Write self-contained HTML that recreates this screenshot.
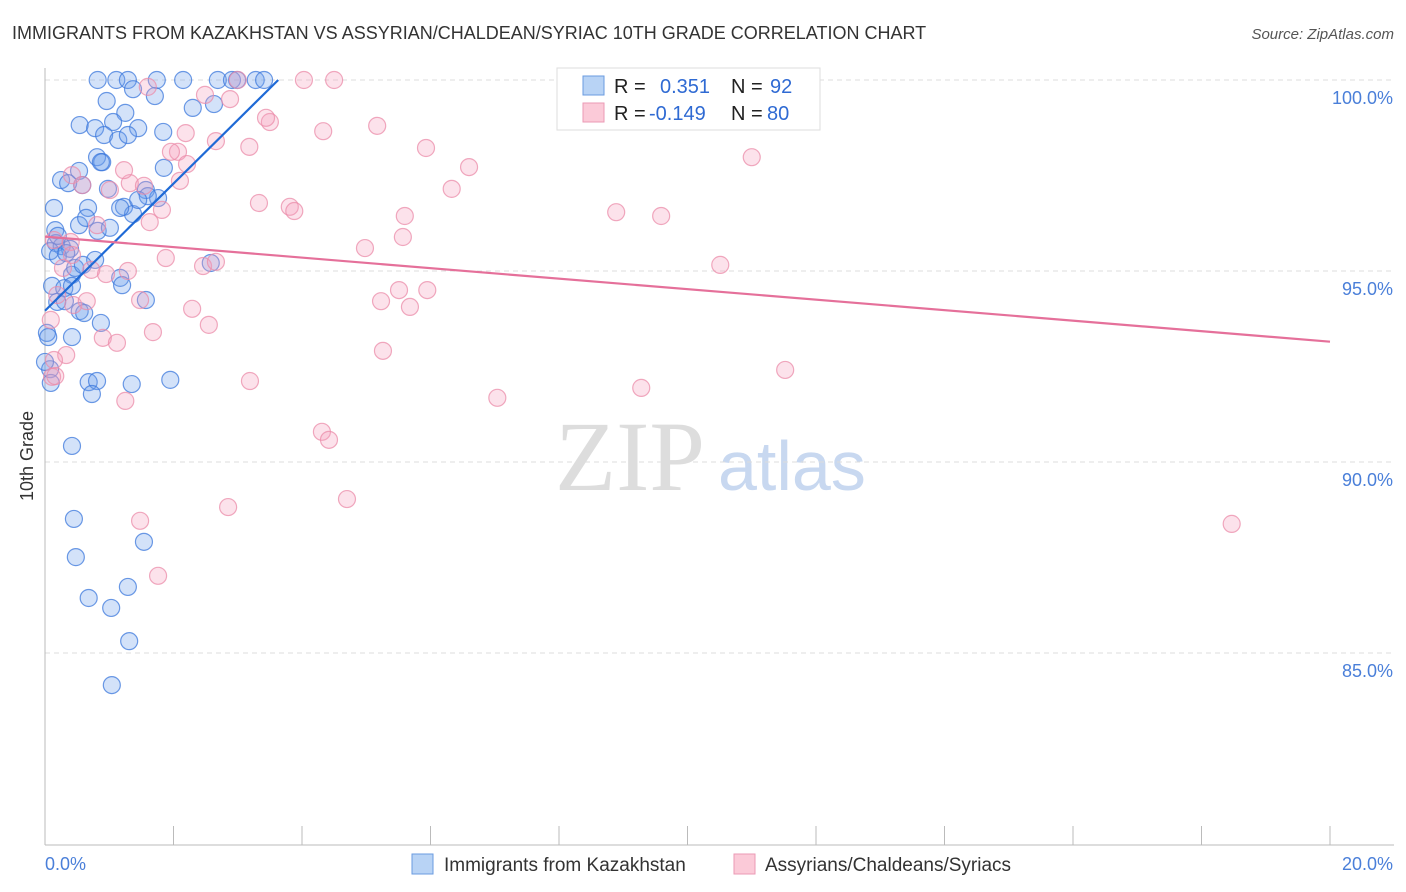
<!DOCTYPE html>
<html><head><meta charset="utf-8">
<style>
body{margin:0;background:#fff;font-family:"Liberation Sans",sans-serif;}
svg{display:block}
</style></head><body>
<svg id="chart" width="1406" height="892">
<text x="12" y="39" font-size="18" fill="#333">IMMIGRANTS FROM KAZAKHSTAN VS ASSYRIAN/CHALDEAN/SYRIAC 10TH GRADE CORRELATION CHART</text>
<text x="1394" y="39" font-size="15" fill="#555" font-style="italic" text-anchor="end">Source: ZipAtlas.com</text>
<text transform="translate(33,456) rotate(-90)" font-size="18" fill="#333" text-anchor="middle">10th Grade</text>
<text x="555" y="490" font-size="100" fill="#ddd" font-family="Liberation Serif,serif">ZIP</text>
<text x="718" y="490" font-size="70" fill="#c8d8f0">atlas</text>
<g id="grid"></g><g id="axes"></g><g id="pts"></g><g id="lines"></g>
<g>
<rect x="557" y="68" width="263" height="62" fill="#fff" stroke="#ddd"/>
<rect x="583" y="76" width="21" height="19" fill="#b8d3f5" stroke="#6a9be0"/>
<rect x="583" y="103" width="21" height="19" fill="#fbcad8" stroke="#eb9ab5"/>
<text x="614" y="93" font-size="20" fill="#222">R = </text><text x="660" y="93" font-size="20" fill="#2f6ad3">0.351</text>
<text x="731" y="93" font-size="20" fill="#222">N = </text><text x="770" y="93" font-size="20" fill="#2f6ad3">92</text>
<text x="614" y="120" font-size="20" fill="#222">R = </text><text x="649" y="120" font-size="20" fill="#2f6ad3">-0.149</text>
<text x="731" y="120" font-size="20" fill="#222">N = </text><text x="767" y="120" font-size="20" fill="#2f6ad3">80</text>
</g>
<g><rect x="412" y="854" width="21" height="20" fill="#b8d3f5" stroke="#6a9be0"/><text x="444" y="871" font-size="19" fill="#333">Immigrants from Kazakhstan</text></g>
<g><rect x="734" y="854" width="21" height="20" fill="#fbcad8" stroke="#eb9ab5"/><text x="765" y="871" font-size="19" fill="#333">Assyrians/Chaldeans/Syriacs</text></g>
</svg>
<script>
const blueX=[0.82,1.11,1.29,1.74,2.15,2.69,2.91,2.99,3.28,3.41,1.37,1.71,0.96,2.30,2.63,1.25,0.54,0.78,1.06,1.45,1.84,0.92,1.14,1.29,0.81,0.89,0.53,1.85,0.25,0.36,0.58,0.98,1.57,1.76,0.14,0.67,1.23,1.37,0.53,0.82,1.01,0.16,0.17,0.26,0.39,0.08,0.20,0.78,2.58,0.42,1.17,0.11,0.30,0.42,1.20,1.57,0.19,0.54,0.61,0.87,0.42,0.03,0.05,0.08,0.09,0.68,0.81,1.35,1.95,0.73,0.42,0.45,1.54,0.48,1.29,0.68,1.03,1.31,1.04,0,1.17,0.31,0.47,0.20,0.33,0.64,1.60,1.45,0.87,0.59];
const blueY=[100,100,100,100,100,100,100,100,100,100,99.76,99.58,99.45,99.27,99.37,99.14,98.82,98.74,98.90,98.74,98.64,98.56,98.43,98.56,97.98,97.85,97.62,97.70,97.38,97.30,97.25,97.15,97.12,96.91,96.65,96.65,96.68,96.49,96.20,96.05,96.13,96.07,95.73,95.65,95.58,95.52,95.39,95.29,95.21,94.90,94.82,94.61,94.55,94.61,94.63,94.24,94.19,93.95,93.90,93.64,93.27,93.38,93.27,92.43,92.07,92.09,92.12,92.04,92.15,91.78,90.42,88.51,87.91,87.51,86.73,86.44,86.18,85.31,84.16,92.62,96.65,94.21,95.08,95.92,95.47,96.39,96.96,96.86,97.85,95.16];
const pinkX=[3.00,4.03,4.50,1.60,2.49,2.88,2.19,2.66,3.18,2.07,1.96,3.50,3.44,4.33,5.17,5.93,6.60,6.33,11.00,2.10,2.21,1.32,1.54,1.23,0.58,0.42,1.01,1.82,1.63,3.33,3.81,3.88,5.60,8.89,9.59,0.81,0.40,0.42,0.14,0.28,0.72,0.95,1.29,1.88,2.46,2.66,4.98,5.57,10.51,0.19,0.44,0.65,1.48,2.29,2.55,1.68,0.90,1.12,5.23,5.68,5.95,5.51,0.09,0.33,0.11,3.19,9.28,11.52,5.26,1.25,7.04,4.31,4.42,4.70,2.85,1.48,1.76,18.47,0.14,0.16];
const pinkY=[100,100,100,99.82,99.61,99.50,98.61,98.40,98.25,98.12,98.12,98.90,99.01,98.66,98.80,98.22,97.72,97.15,97.98,97.36,97.80,97.30,97.23,97.64,97.25,97.51,97.12,96.60,96.28,96.78,96.68,96.57,96.44,96.54,96.44,96.20,95.76,95.42,95.81,95.08,95.03,94.92,95.00,95.34,95.13,95.24,95.60,95.89,95.16,94.37,94.11,94.21,94.24,94.01,93.59,93.40,93.25,93.12,94.21,94.06,94.50,94.50,93.72,92.80,92.23,92.12,91.94,92.41,92.91,91.60,91.68,90.79,90.58,89.03,88.82,88.46,87.02,88.38,92.67,92.25];
const blueTrendX=[0,3.63], blueTrendY=[93.96,100];
const pinkTrendX=[0,20], pinkTrendY=[95.9,93.15];
const yTicks=[100,95,90,85];
const yTickLabels=["100.0%","95.0%","90.0%","85.0%"];
const xTickVals=[0,2,4,6,8,10,12,14,16,18,20];
const xEndLabels=["0.0%","20.0%"];

const NS="http://www.w3.org/2000/svg";
const X=v=>45+v/20*1285;
const Y=v=>80+(100-v)*38.2;
function mk(tag,attrs,parent){const e=document.createElementNS(NS,tag);for(const k in attrs)e.setAttribute(k,attrs[k]);document.getElementById(parent).appendChild(e);return e;}

yTicks.forEach((t,i)=>{
  const g=mk('line',{x1:45,x2:1394,y1:Y(t),y2:Y(t),stroke:'#ddd','stroke-dasharray':'5,4'},'grid');
  
  
  const l=mk('text',{x:1393,y:Y(t)+24,'font-size':18,fill:'#4a7fd9','text-anchor':'end'},'grid');
  l.textContent=yTickLabels[i];
  
  
});
const ya=mk('line',{x1:45,x2:45,y1:68,y2:845,stroke:'#bbb'},'axes');


const xa=mk('line',{x1:45,x2:1394,y1:845,y2:845,stroke:'#bbb'},'axes');


xTickVals.forEach(v=>{
  const t=mk('line',{x1:X(v),x2:X(v),y1:826,y2:845,stroke:'#bbb'},'axes');
  
  
});
const l0=mk('text',{x:45,y:870,'font-size':18,fill:'#4a7fd9'},'axes');
l0.textContent=xEndLabels[0];


const l1=mk('text',{x:1393,y:870,'font-size':18,fill:'#4a7fd9','text-anchor':'end'},'axes');
l1.textContent=xEndLabels[1];



blueX.forEach((x,i)=>{
  const c=mk('circle',{cx:X(x),cy:Y(blueY[i]),r:8.5,fill:'rgba(110,160,235,0.3)',stroke:'rgba(60,120,220,0.75)','stroke-width':1.2},'pts');
  
  
});
pinkX.forEach((x,i)=>{
  const c=mk('circle',{cx:X(x),cy:Y(pinkY[i]),r:8.5,fill:'rgba(245,160,190,0.3)',stroke:'rgba(235,140,170,0.75)','stroke-width':1.2},'pts');
  
  
});
const bl=mk('line',{x1:X(blueTrendX[0]),y1:Y(blueTrendY[0]),x2:X(blueTrendX[1]),y2:Y(blueTrendY[1]),stroke:'#1f6ad6','stroke-width':2.2},'lines');


const pl=mk('line',{x1:X(pinkTrendX[0]),y1:Y(pinkTrendY[0]),x2:X(pinkTrendX[1]),y2:Y(pinkTrendY[1]),stroke:'#e5709a','stroke-width':2.2},'lines');


</script>
</body></html>
